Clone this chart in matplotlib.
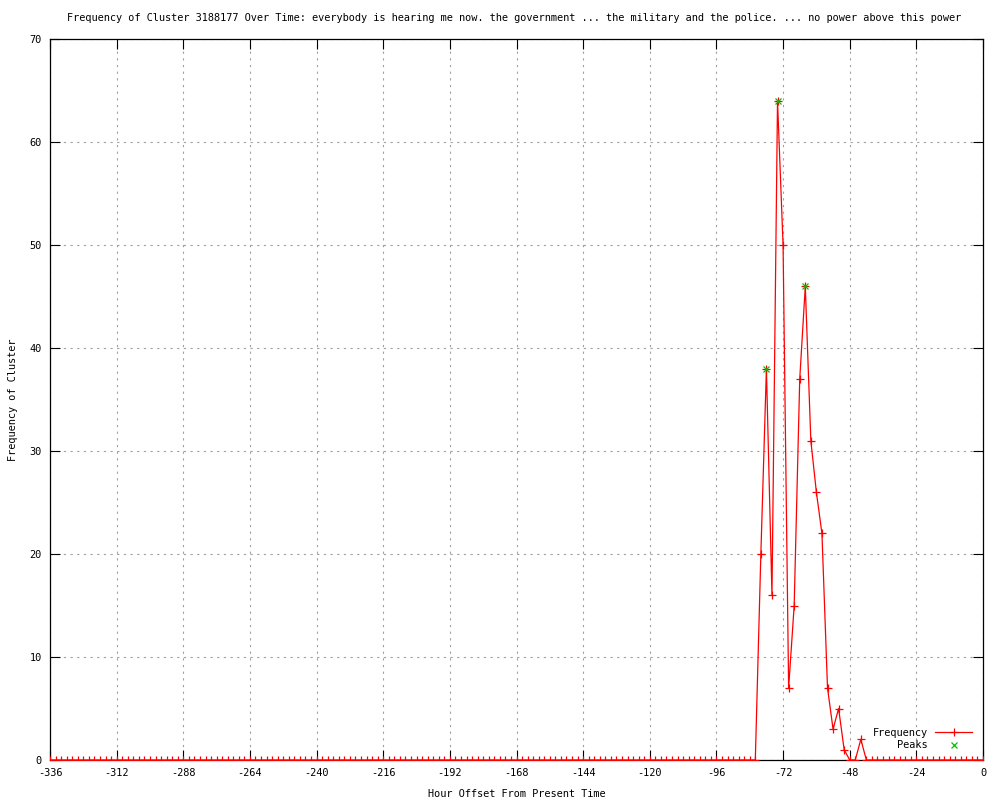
import matplotlib
matplotlib.use("Agg")
import matplotlib.pyplot as plt
import numpy as np

plt.rcParams['font.family'] = ['DejaVu Sans Mono']
plt.rcParams['axes.unicode_minus'] = False

title = ("Frequency of Cluster 3188177 Over Time: everybody is hearing me now. the government "
         "... the military and the police. ... no power above this power")

hours = list(range(-336, 1, 2))
freq = ([0] * 128 +
        [20, 38, 16, 64, 50, 7, 15, 37, 46, 31, 26, 22, 7, 3, 5, 1, 0, 0, 2] +
        [0] * 22)
peak_hours = [-78, -74, -64]
peak_vals = [38, 64, 46]
xticks = list(range(-336, 1, 24))
yticks = list(range(0, 71, 10))

FS = 7.4

fig = plt.figure(figsize=(10, 8), dpi=100)
ax = fig.add_axes([0.05, 0.05, 0.933, 0.901])

ax.plot(hours, freq, color='red', lw=0.9, marker='+', ms=6, mew=0.9,
        label='Frequency', zorder=3)
ax.plot(peak_hours, peak_vals, ls='none', color='#00c000', marker='x', ms=5,
        mew=0.9, label='Peaks', zorder=4)

ax.set_xlim(-336, 0)
ax.set_ylim(0, 70)
ax.set_xticks(xticks)
ax.set_yticks(yticks)
ax.tick_params(direction='in', length=7, width=0.8, top=True, right=True,
               labelsize=FS, pad=6, color='black')
ax.grid(True, color='#a0a0a0', ls=(0, (2, 4)), lw=0.8)
for s in ax.spines.values():
    s.set_linewidth(0.9)

fig.text(0.514, 1 - 18 / 800, title, fontsize=FS, ha='center', va='center')
ax.set_xlabel('Hour Offset From Present Time', fontsize=FS, labelpad=8)
fig.text(0.013, 0.5, 'Frequency of Cluster', fontsize=FS, rotation=90,
         ha='center', va='center')

leg = ax.legend(loc='lower right', bbox_to_anchor=(0.995, 0.005), frameon=False,
                markerfirst=False, fontsize=FS, handlelength=3.6,
                handletextpad=0.7, labelspacing=0.25, borderaxespad=0.2)
for t in leg.get_texts():
    t.set_ha('right')

fig.savefig('out.png', dpi=100)
